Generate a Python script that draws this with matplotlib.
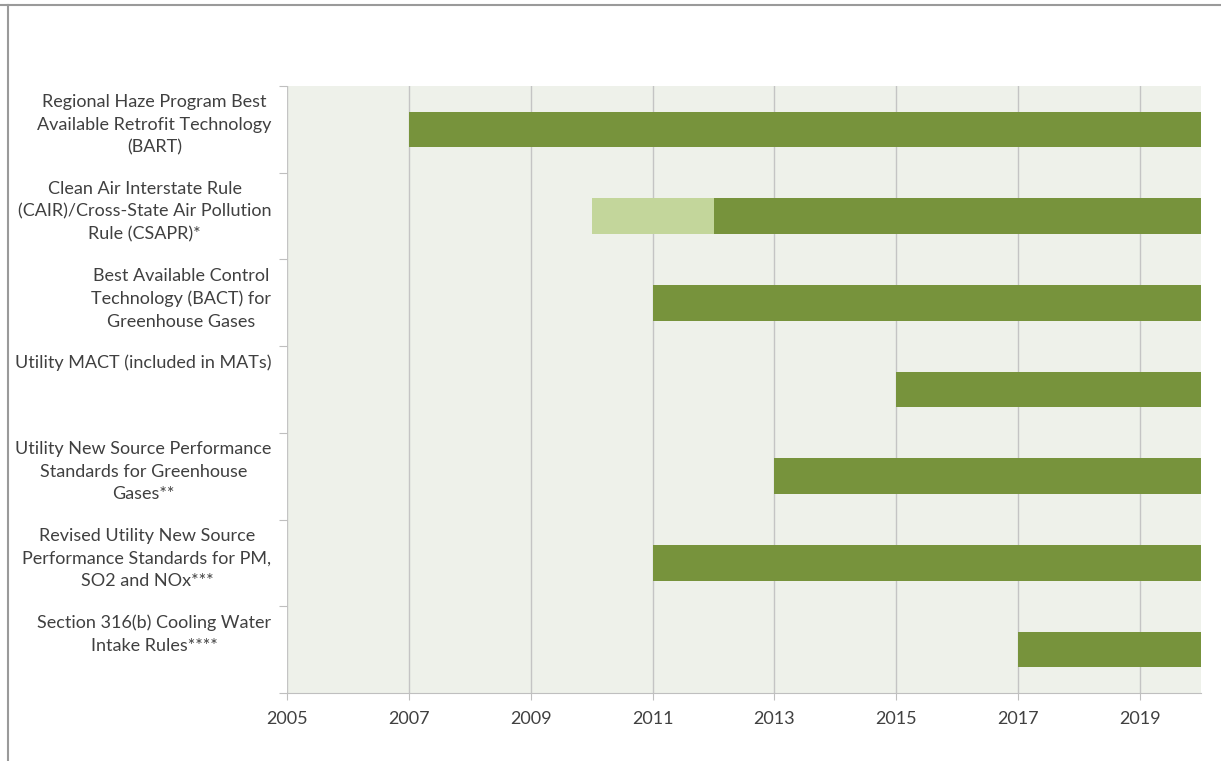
import numpy as np
import matplotlib.pyplot as plt
from matplotlib.lines import Line2D

# regulations, top to bottom
rules = [
    "Regional Haze Program Best\nAvailable Retrofit Technology\n(BART)",
    "Clean Air Interstate Rule\n(CAIR)/Cross-State Air Pollution\nRule (CSAPR)*",
    "Best Available Control\nTechnology (BACT) for\nGreenhouse Gases",
    "Utility MACT (included in MATs)",
    "Utility New Source Performance\nStandards for Greenhouse\nGases**",
    "Revised Utility New Source\nPerformance Standards for PM,\nSO2 and NOx***",
    "Section 316(b) Cooling Water\nIntake Rules****",
]
start = [2007, 2012, 2011, 2015, 2013, 2011, 2017]
end = [2020, 2020, 2020, 2020, 2020, 2020, 2020]
# earlier phase (light bar) - only CAIR
early_start = [None, 2010, None, None, None, None, None]
early_end = [None, 2012, None, None, None, None, None]

year_ticks = [2005, 2007, 2009, 2011, 2013, 2015, 2017, 2019]

dark = "#77933C"
light = "#C3D69B"
text_col = "#404040"

plt.rcParams['font.family'] = ['Lato', 'DejaVu Sans']

fig = plt.figure(figsize=(12.21, 7.61), dpi=100)
ax = fig.add_axes([287/1221, 1 - 693/761, (1201 - 287)/1221, (693 - 86)/761])
ax.set_facecolor("#EEF1EA")

y = np.arange(len(rules))
for i in range(len(rules)):
    if early_start[i] is not None:
        ax.barh(y[i], early_end[i] - early_start[i], left=early_start[i],
                height=0.41, color=light, zorder=3)
    ax.barh(y[i], end[i] - start[i], left=start[i], height=0.41,
            color=dark, zorder=3)

ax.set_xlim(2005, 2020)
ax.set_ylim(len(rules) - 0.5, -0.5)
ax.set_xticks(year_ticks)
ax.set_xticklabels([str(t) for t in year_ticks], fontsize=13, color=text_col)
ax.grid(axis='x', color="#C4C4C4", linewidth=1, zorder=0)

# band boundaries as y ticks, labels drawn separately
ax.set_yticks(np.arange(-0.5, len(rules) + 0.5, 1))
ax.set_yticklabels([])
ax.tick_params(axis='y', length=6, color="#BFBFBF", direction='out')
ax.tick_params(axis='x', length=5, color="#BFBFBF", direction='out', pad=8)

for s in ['top', 'right', 'left']:
    ax.spines[s].set_visible(False)
ax.spines['bottom'].set_color("#BFBFBF")

for i, lab in enumerate(rules):
    ax.text(-0.017, i - 0.5 + 0.095, lab, transform=ax.get_yaxis_transform(),
            ha='right', va='top', multialignment='center', fontsize=13,
            color=text_col, linespacing=1.5)

# outer chart frame (partially cropped)
fig.add_artist(Line2D([0, 1], [1 - 5/761, 1 - 5/761], color="#9A9A9A", lw=1.5))
fig.add_artist(Line2D([8/1221, 8/1221], [0, 1 - 5/761], color="#9A9A9A", lw=1.5))

fig.savefig("out.png", dpi=100)
